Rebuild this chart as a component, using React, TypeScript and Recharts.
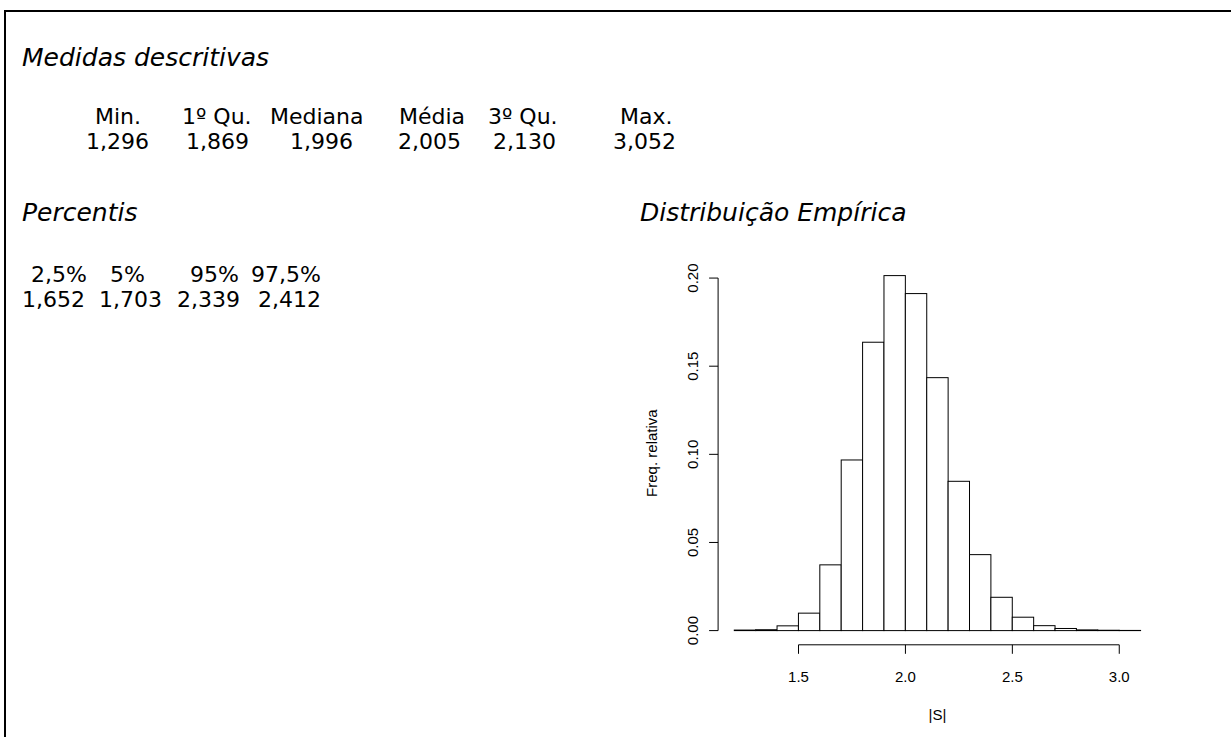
import React from 'react';
import { ComposedChart, Bar, XAxis, YAxis, ReferenceLine, Label } from 'recharts';

// resumo (summary) e percentis, como impressos pelo R
const summaryLabels = ['Min.', '1º Qu.', 'Mediana', 'Média', '3º Qu.', 'Max.'];
const summaryValues = ['1,296', '1,869', '1,996', '2,005', '2,130', '3,052'];
const percentileLabels = ['2,5%', '5%', '95%', '97,5%'];
const percentileValues = ['1,652', '1,703', '2,339', '2,412'];

// histograma: inicio de cada classe e freq. relativa
const binStarts = [1.2, 1.3, 1.4, 1.5, 1.6, 1.7, 1.8, 1.9, 2.0, 2.1, 2.2, 2.3, 2.4, 2.5, 2.6, 2.7, 2.8, 2.9, 3.0];
const binFreqs = [0.0003, 0.0005, 0.0027, 0.0099, 0.0373, 0.0968, 0.1636, 0.2014, 0.1912, 0.1435, 0.0847, 0.0431, 0.0189, 0.0076, 0.0028, 0.0012, 0.0004, 0.0002, 0.0001];
const binWidth = 0.1;
const xTicks = [1.5, 2.0, 2.5, 3.0];
const yTicks = [0, 0.05, 0.1, 0.15, 0.2];

const histData = binStarts.map((s, i) => ({ mid: s + binWidth / 2, freq: binFreqs[i] }));

// limites no estilo do R (4% de folga)
const bMin = binStarts[0];
const bMax = binStarts[binStarts.length - 1] + binWidth;
const xMin = bMin - 0.04 * (bMax - bMin);
const xMax = bMax + 0.04 * (bMax - bMin);
const fMax = Math.max(...binFreqs);
const yMin = -0.04 * fMax;
const yMax = fMax + 0.04 * fMax;

const textFont = '"DejaVu Sans", Verdana, sans-serif';
const plotFont = '"Liberation Sans", Arial, Helvetica, sans-serif';

// posicoes (x inicial) das celulas das tabelas de texto
const sumLabelX = [95, 182, 270, 399, 488, 620];
const sumValueX = [86, 186, 290, 398, 493, 613];
const pctLabelX = [31, 110, 190, 251];
const pctValueX = [22, 99, 177, 258];

const CW = 600;
const CH = 497;
const M = { top: 21.4, right: 43.1, left: 0, bottom: 0 };
const Y_W = 118.1;
const X_H = 92.2;
const plotW = CW - Y_W - M.right;
const barSize = (plotW * binWidth) / (xMax - xMin);

function YTick(props: any) {
  const { x, y, payload } = props;
  return (
    <text x={x} y={y} transform={`rotate(-90 ${x} ${y})`} textAnchor="middle" fontSize={15} fontFamily={plotFont} fill="#000">
      {Number(payload.value).toFixed(2)}
    </text>
  );
}

function XTick(props: any) {
  const { x, y, payload } = props;
  return (
    <text x={x} y={y} dy="0.71em" textAnchor="middle" fontSize={15} fontFamily={plotFont} fill="#000">
      {Number(payload.value).toFixed(1)}
    </text>
  );
}

// barra do histograma: largura da classe inteira, centrada no ponto medio
function HistBar(p: any) {
  return (
    <rect x={p.x + p.width / 2 - barSize / 2} y={p.y} width={barSize} height={Math.max(p.height, 0)} fill="#fff" stroke="#000" strokeWidth={1} />
  );
}

const txt = (key: string, top: number, left: number, text: string, italic = false, size = 22, lh = 24) => (
  <div
    key={key}
    style={{
      position: 'absolute', top, left, whiteSpace: 'pre', fontFamily: textFont, fontSize: size,
      fontStyle: italic ? 'italic' : 'normal', lineHeight: `${lh}px`, color: '#000',
    }}
  >
    {text}
  </div>
);

export default function App() {
  return (
    <div style={{ position: 'fixed', left: 0, top: 0, width: 1231, height: 737, overflow: 'hidden', background: '#fff' }}>
      <div style={{ position: 'absolute', left: 4, top: 10, width: 1400, height: 900, border: '2px solid #000' }} />
      {txt('t1', 44, 22, 'Medidas descritivas', true, 25, 28)}
      {summaryLabels.map((s, i) => txt('sl' + i, 105, sumLabelX[i], s))}
      {summaryValues.map((s, i) => txt('sv' + i, 130, sumValueX[i], s))}
      {txt('t2', 199, 22, 'Percentis', true, 25, 28)}
      {percentileLabels.map((s, i) => txt('pl' + i, 263, pctLabelX[i], s))}
      {percentileValues.map((s, i) => txt('pv' + i, 288, pctValueX[i], s))}
      {txt('t3', 199, 640, 'Distribuição Empírica', true, 25, 28)}
      <div style={{ position: 'absolute', left: 600, top: 240 }}>
        <ComposedChart width={CW} height={CH} data={histData} margin={M} barCategoryGap={0} barGap={0}>
          <XAxis
            dataKey="mid" type="number" domain={[xMin, xMax]} ticks={xTicks} allowDataOverflow
            axisLine={false} tickSize={9} tickMargin={18} height={X_H} tick={<XTick />}
            tickLine={{ stroke: '#000' }}
          >
            <Label
              content={(p: any) => (
                <text x={p.viewBox.x + p.viewBox.width / 2} y={p.viewBox.y + 75} textAnchor="middle" fontSize={15} fontFamily={plotFont} fill="#000">|S|</text>
              )}
            />
          </XAxis>
          <YAxis
            type="number" domain={[yMin, yMax]} ticks={yTicks} allowDataOverflow
            axisLine={false} tickSize={9} tickMargin={11} width={Y_W} tick={<YTick />}
            tickLine={{ stroke: '#000' }}
          >
            <Label
              content={(p: any) => {
                const x = p.viewBox.x + 57;
                const y = p.viewBox.y + p.viewBox.height / 2;
                return (
                  <text x={x} y={y} transform={`rotate(-90 ${x} ${y})`} textAnchor="middle" fontSize={15} fontFamily={plotFont} fill="#000">Freq. relativa</text>
                );
              }}
            />
          </YAxis>
          <Bar dataKey="freq" fill="#fff" stroke="#000" strokeWidth={1} barSize={barSize} shape={HistBar} isAnimationActive={false} />
          <ReferenceLine segment={[{ x: xMin, y: yTicks[0] }, { x: xMin, y: yTicks[yTicks.length - 1] }]} stroke="#000" ifOverflow="visible" />
          <ReferenceLine segment={[{ x: xTicks[0], y: yMin }, { x: xTicks[xTicks.length - 1], y: yMin }]} stroke="#000" ifOverflow="visible" />
        </ComposedChart>
      </div>
    </div>
  );
}
